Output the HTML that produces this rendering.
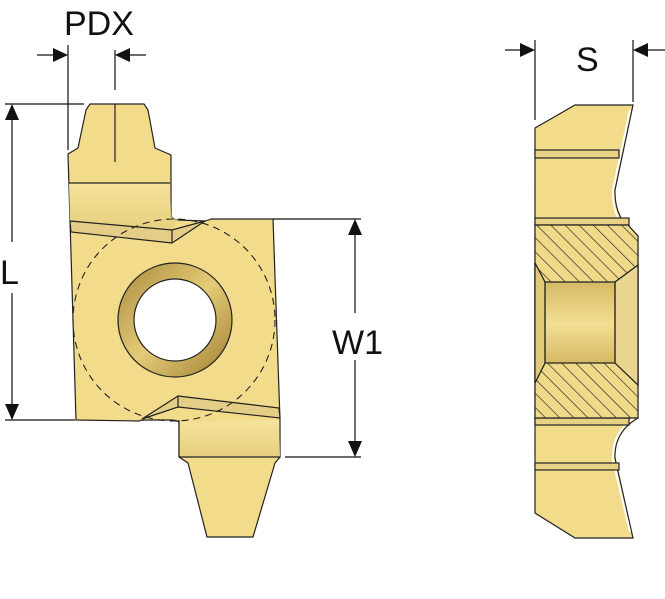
<!DOCTYPE html>
<html><head><style>html,body{margin:0;padding:0;background:#fff}svg{display:block}</style></head>
<body>
<svg width="665" height="599" viewBox="0 0 665 599" xmlns="http://www.w3.org/2000/svg" font-family="Liberation Sans, Arial, sans-serif">
<defs>
<linearGradient id="band" x1="0" y1="0" x2="0" y2="1"><stop offset="0" stop-color="#f5e39a"/><stop offset="1" stop-color="#e6cf7e"/></linearGradient>
<linearGradient id="ring2" x1="0" y1="0" x2="1" y2="1"><stop offset="0" stop-color="#a88a3a"/><stop offset="0.5" stop-color="#e5cb78"/><stop offset="1" stop-color="#9c7e30"/></linearGradient>
<linearGradient id="bore" x1="0" y1="0" x2="0" y2="1"><stop offset="0" stop-color="#c9a84e"/><stop offset="0.5" stop-color="#f3de94"/><stop offset="1" stop-color="#c6a44a"/></linearGradient>
<pattern id="hatch" width="10" height="10" patternUnits="userSpaceOnUse" patternTransform="rotate(-45)">
<rect width="10" height="10" fill="#f0da8a"/><line x1="0" y1="0" x2="0" y2="10" stroke="#222" stroke-width="1.3"/></pattern>
</defs>
<g stroke="#222" stroke-width="1.2" fill="none">
<path d="M90,104 L144,104 L148,110 L155,148 L171,155 L171,216 Q173,220 178,220 L205,221 Q209,220 211,219 L273,219 L280,420 L280,457 L275,463 L253,537 L207,537 L188,463 L179,457 L179,422 Q176,420 170,420 L145,420 Q141,420 139,421 L76,420 L68,154 L78,148 L86,110 Z" fill="#f2dc8c"/>
<path d="M69,183 L170,183 L171,216 Q173,220 178,220 L172,230 L70,221 Z" fill="url(#band)" stroke="none"/>
<line x1="69" y1="183" x2="170" y2="183"/>
<path d="M70,221 L172,230 L205,221 L172,243 L71,232 Z" fill="#e4cd86"/>
<line x1="172" y1="230" x2="172" y2="243"/>
<path d="M178,396 L279,408 L280,418 L178,407 L142,419 Z" fill="#e4cd86"/>
<line x1="178" y1="396" x2="178" y2="407"/>
<path d="M179,422 L279,420 L280,457 L179,457 Z" fill="url(#band)" stroke="none"/>
<line x1="179" y1="457" x2="280" y2="457"/>
<line x1="179" y1="420" x2="179" y2="457"/>
<circle cx="174" cy="320" r="101" stroke-dasharray="7,5" stroke-width="1.1"/>
<circle cx="175" cy="320" r="57" fill="url(#ring2)"/>
<circle cx="175" cy="320" r="41" fill="#fff"/>
<line x1="115" y1="104" x2="115" y2="162"/>
</g>
<g stroke="#222" stroke-width="1.2">
<path d="M535,128 L575,105 L633,105 L615,190 Q614,220 638,236 L638,418 Q614,432 615,458 L633,538 L575,538 L535,513 Z" fill="#f2dc8c"/>
<path d="M630,110 L613,190 Q612,222 634,236" fill="none" stroke="#fff" stroke-width="2"/>
<path d="M634,418 Q612,432 613,460 L630,532" fill="none" stroke="#fff" stroke-width="2"/>
<rect x="535" y="150" width="84" height="8" fill="#e8d184"/>
<rect x="535" y="218" width="94" height="7" fill="#e8d184"/>
<rect x="535" y="418" width="94" height="7" fill="#e8d184"/>
<rect x="535" y="463" width="84" height="7" fill="#e8d184"/>
<path d="M535,225 L628,225 L638,236 L638,418 L628,418 L535,418 Z" fill="url(#hatch)"/>
<path d="M535,263 L545,282 L615,282 L638,265 L638,385 L615,363 L545,363 L535,383 Z" fill="url(#bore)"/>
<path d="M615,282 L638,265 L638,385 L615,363 Z" fill="#e9d490"/>
<path d="M535,263 L545,282 L545,363 L535,383 Z" fill="#e2c97a"/>
<line x1="545" y1="282" x2="545" y2="363"/>
<line x1="615" y1="282" x2="615" y2="363"/>
</g>
<g stroke="#111" stroke-width="1.2" fill="none">
<line x1="68" y1="45" x2="68" y2="150"/>
<line x1="115" y1="50" x2="115" y2="90"/>
<line x1="37" y1="55" x2="60" y2="55"/>
<line x1="123" y1="55" x2="146" y2="55"/>
<line x1="5" y1="104" x2="84" y2="104"/>
<line x1="5" y1="420" x2="75" y2="420"/>
<line x1="12" y1="114" x2="12" y2="242"/>
<line x1="12" y1="293" x2="12" y2="410"/>
<line x1="273" y1="219" x2="361" y2="219"/>
<line x1="285" y1="457" x2="361" y2="457"/>
<line x1="355" y1="229" x2="355" y2="313"/>
<line x1="355" y1="360" x2="355" y2="447"/>
<line x1="535" y1="40" x2="535" y2="120"/>
<line x1="633" y1="40" x2="633" y2="102"/>
<line x1="505" y1="50" x2="527" y2="50"/>
<line x1="641" y1="50" x2="665" y2="50"/>
</g>
<g fill="#111">
<polygon points="68,55 53,48 53,62"/>
<polygon points="115,55 130,48 130,62"/>
<polygon points="12,104 5,120 19,120"/>
<polygon points="12,420 5,404 19,404"/>
<polygon points="355,219 348,235 362,235"/>
<polygon points="355,457 348,441 362,441"/>
<polygon points="535,50 520,43 520,57"/>
<polygon points="633,50 648,43 648,57"/>
</g>
<g fill="#111" font-size="34">
<text x="64" y="35">PDX</text>
<text x="0" y="284">L</text>
<text x="332" y="354">W1</text>
<text x="576" y="71">S</text>
</g>
</svg>
</body></html>
